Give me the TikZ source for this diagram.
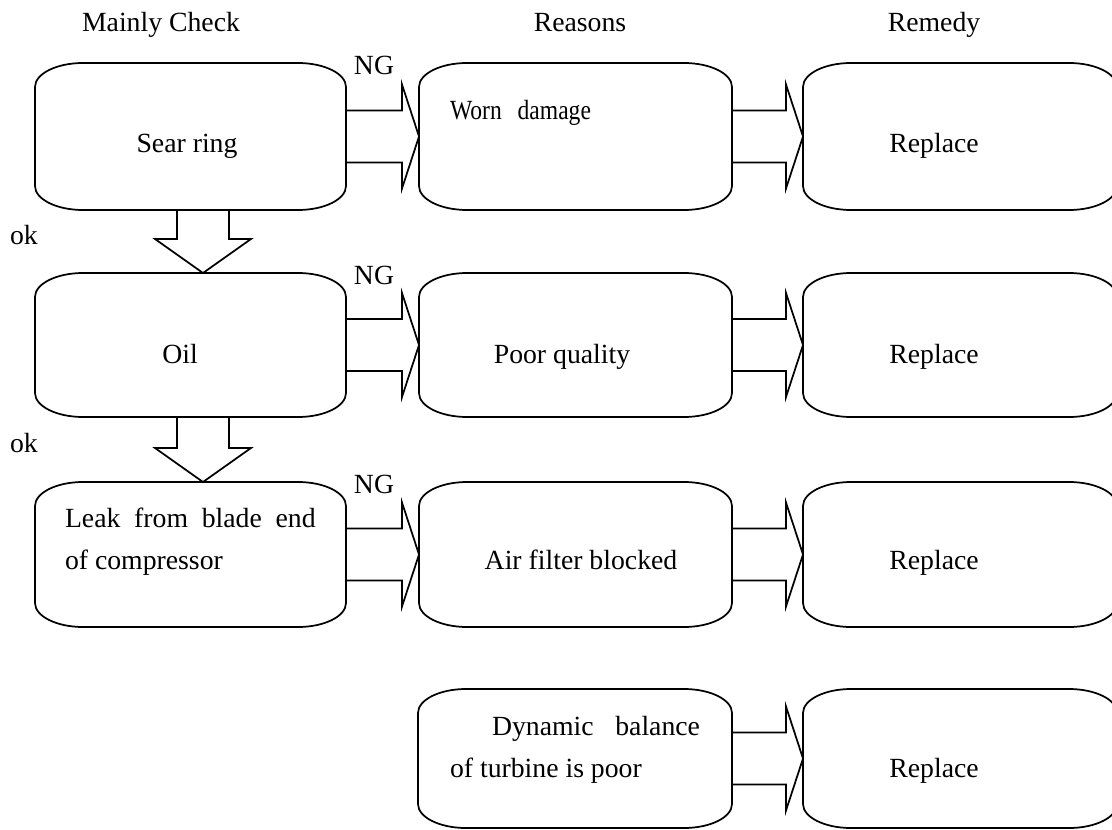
\documentclass[tikz,border=0pt]{standalone}
\usepackage{fontspec}
\setmainfont{Liberation Serif}
\usetikzlibrary{calc}
\tikzset{
  boxarea/.style={inner sep=0pt, outer sep=0pt, draw=none},
  boxline/.style={draw=black, line width=1.3pt, line join=miter},
  txt/.style={font=\fontsize{20.8}{25}\selectfont, inner sep=0pt, outer sep=0pt},
}
% rounded box with elliptical corners: name, x1, y1, x2, y2 (pixels)
\newcommand\rbox[5]{%
  \node[boxarea, minimum width={(#4-#2)*0.75pt}, minimum height={(#5-#3)*0.75pt}] (#1) at ({(#2+#4)/2},{(#3+#5)/2}) {};
  \draw[boxline] ([xshift=36pt]#1.north west) -- ([xshift=-36pt]#1.north east)
    arc[start angle=90,end angle=0,x radius=36pt,y radius=18pt] -- ([yshift=18pt]#1.south east)
    arc[start angle=0,end angle=-90,x radius=36pt,y radius=18pt] -- ([xshift=36pt]#1.south west)
    arc[start angle=270,end angle=180,x radius=36pt,y radius=18pt] -- ([yshift=-18pt]#1.north west)
    arc[start angle=180,end angle=90,x radius=36pt,y radius=18pt] -- cycle;
}
% block arrow to the right
\newcommand\harrow[2]{%
  \draw[boxline] let \p1=(#1.east), \p2=(#2.west) in
    (\x1,\y1+19.5pt) -- (\x2-12.75pt,\y1+19.5pt) -- (\x2-12.75pt,\y1+39pt) -- (\x2,\y1)
    -- (\x2-12.75pt,\y1-39pt) -- (\x2-12.75pt,\y1-19.5pt) -- (\x1,\y1-19.5pt);
}
% block arrow downwards
\newcommand\varrow[2]{%
  \draw[boxline] let \p1=([xshift=126pt]#1.south west), \p2=([xshift=126pt]#2.north west) in
    (\x1-19.5pt,\y1) -- (\x1-19.5pt,\y2+25.5pt) -- (\x1-36pt,\y2+25.5pt) -- (\x1,\y2)
    -- (\x1+36pt,\y2+25.5pt) -- (\x1+19.5pt,\y2+25.5pt) -- (\x1+19.5pt,\y1);
}
\begin{document}
\begin{tikzpicture}[x=0.75pt,y=-0.75pt]
\useasboundingbox (0,0) rectangle (1112,830);

% headers
\node[txt, anchor=base] (h1) at (161,32) {Mainly Check};
\node[txt, anchor=base] (h2) at (580,32) {Reasons};
\node[txt, anchor=base] (h3) at (934,32) {Remedy};

% boxes
\rbox{b11}{35}{63}{346}{210}
\rbox{b12}{419}{63}{732}{210}
\rbox{b13}{803}{63}{1117}{210}
\rbox{b21}{35}{273}{346}{417}
\rbox{b22}{419}{273}{732}{417}
\rbox{b23}{803}{273}{1117}{417}
\rbox{b31}{35}{482}{346}{627}
\rbox{b32}{419}{482}{732}{627}
\rbox{b33}{803}{482}{1117}{627}
\rbox{b42}{418}{689}{732}{828}
\rbox{b43}{803}{689}{1117}{828}

% arrows
\harrow{b11}{b12}
\harrow{b12}{b13}
\harrow{b21}{b22}
\harrow{b22}{b23}
\harrow{b31}{b32}
\harrow{b32}{b33}
\harrow{b42}{b43}
\varrow{b11}{b21}
\varrow{b21}{b31}

% labels
\node[txt, anchor=base] (ng1) at (374,75) {NG};
\node[txt, anchor=base] (ng2) at (374,285) {NG};
\node[txt, anchor=base] (ng3) at (374,493) {NG};
\node[txt, anchor=base west] (ok1) at (10,245) {ok};
\node[txt, anchor=base west] (ok2) at (10,452) {ok};

% texts
\node[txt, anchor=base] (t11) at (187,153) {Sear ring};
\node[txt, anchor=base west] (t12) at (450,120) {\scalebox{0.85}[1]{Worn\hspace{14pt}damage}};
\node[txt, anchor=base] (t13) at (934,153) {Replace};
\node[txt, anchor=base] (t21) at (180,363) {Oil};
\node[txt, anchor=base] (t22) at (562,363) {Poor quality};
\node[txt, anchor=base] (t23) at (934,363) {Replace};
\node[txt, anchor=base west] (t31a) at (65,527) {\makebox[188pt][s]{Leak\hfill from\hfill blade\hfill end}};
\node[txt, anchor=base west] (t31b) at (65,569) {of compressor};
\node[txt, anchor=base] (t32) at (581,569) {Air filter blocked};
\node[txt, anchor=base] (t33) at (934,569) {Replace};
\node[txt, anchor=base west] (t42a) at (492,735) {\makebox[156pt][s]{Dynamic\hfill balance}};
\node[txt, anchor=base west] (t42b) at (450,777) {of turbine is poor};
\node[txt, anchor=base] (t43) at (934,777) {Replace};
\end{tikzpicture}
\end{document}
